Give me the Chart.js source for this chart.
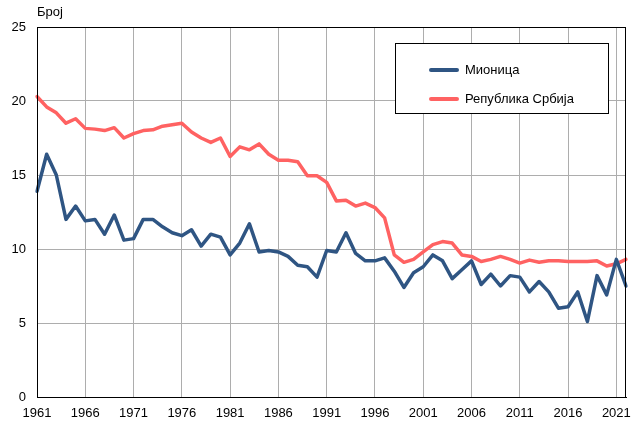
<!DOCTYPE html>
<html>
<head>
<meta charset="utf-8">
<script src="https://cdn.jsdelivr.net/npm/chart.js@4/dist/chart.umd.min.js"></script>
<style>
  html, body { margin: 0; padding: 0; background: #fff; }
  #wrap { width: 635px; height: 421px; position: relative; }
</style>
</head>
<body>
<div id="wrap"><canvas id="c" width="635" height="421"></canvas></div>
<script>
const years = [1961,1962,1963,1964,1965,1966,1967,1968,1969,1970,
  1971,1972,1973,1974,1975,1976,1977,1978,1979,1980,
  1981,1982,1983,1984,1985,1986,1987,1988,1989,1990,
  1991,1992,1993,1994,1995,1996,1997,1998,1999,2000,
  2001,2002,2003,2004,2005,2006,2007,2008,2009,2010,
  2011,2012,2013,2014,2015,2016,2017,2018,2019,2020,
  2021,2022];
const xTickLabels = ['1961','1966','1971','1976','1981','1986','1991','1996','2001','2006','2011','2016','2021'];
const yTicks = [0,5,10,15,20,25];
const seriesNames = ['Мионица','Република Србија'];
const mionica = [13.9,16.4,15.0,12.0,12.9,11.9,12.0,11.0,12.3,10.6,
  10.7,12.0,12.0,11.5,11.1,10.9,11.3,10.2,11.0,10.8,
  9.6,10.4,11.7,9.8,9.9,9.8,9.5,8.9,8.8,8.1,
  9.9,9.8,11.1,9.7,9.2,9.2,9.4,8.5,7.4,8.4,
  8.8,9.6,9.2,8.0,8.6,9.2,7.6,8.3,7.5,8.2,
  8.1,7.1,7.8,7.1,6.0,6.1,7.1,5.1,8.2,6.9,
  9.3,7.5];
const srbija = [20.3,19.6,19.2,18.5,18.8,18.15,18.1,18.0,18.2,17.5,
  17.8,18.0,18.05,18.3,18.4,18.5,17.9,17.5,17.2,17.5,
  16.25,16.9,16.7,17.1,16.4,16.0,16.0,15.9,14.95,14.95,
  14.5,13.25,13.3,12.9,13.1,12.8,12.1,9.6,9.1,9.3,
  9.8,10.3,10.5,10.4,9.6,9.5,9.15,9.3,9.5,9.3,
  9.05,9.25,9.1,9.2,9.2,9.15,9.15,9.15,9.2,8.85,
  9.0,9.3];
const yAxisLabel = 'Број';

const FONT = '"Liberation Sans", Arial, sans-serif';
const BLUE = '#2f5583';
const RED = '#ff6262';
const GRID = '#adadad';

const decorPlugin = {
  id: 'decor',
  afterDraw(chart) {
    const ctx = chart.ctx;
    const a = chart.chartArea;
    ctx.save();
    // frame
    ctx.strokeStyle = '#000';
    ctx.lineWidth = 1;
    ctx.strokeRect(Math.round(a.left) + 0.5, Math.round(a.top) + 0.5,
      Math.round(a.right - a.left) - 1, Math.round(a.bottom - a.top));
    // axis unit label
    ctx.fillStyle = '#000';
    ctx.font = '13px ' + FONT;
    ctx.textAlign = 'left';
    ctx.textBaseline = 'middle';
    ctx.fillText(yAxisLabel, 37, 12);
    // legend box
    const bx = 395.5, by = 43.5, bw = 213, bh = 70;
    ctx.fillStyle = '#fff';
    ctx.fillRect(bx, by, bw, bh);
    ctx.strokeStyle = '#000';
    ctx.strokeRect(bx, by, bw, bh);
    const rows = [70, 99];
    chart.data.datasets.forEach((ds, i) => {
      const y = rows[i];
      ctx.strokeStyle = ds.borderColor;
      ctx.lineWidth = 4;
      ctx.lineCap = 'round';
      ctx.beginPath();
      ctx.moveTo(431, y);
      ctx.lineTo(457, y);
      ctx.stroke();
      ctx.fillStyle = '#000';
      ctx.font = '13px ' + FONT;
      ctx.textBaseline = 'middle';
      ctx.fillText(ds.label, 465, y);
    });
    ctx.restore();
  }
};

new Chart(document.getElementById('c'), {
  type: 'line',
  data: {
    labels: years.map(String),
    datasets: [
      { label: seriesNames[0], data: mionica, borderColor: BLUE, backgroundColor: BLUE,
        borderWidth: 3.5, pointRadius: 0, tension: 0, borderJoinStyle: 'round', borderCapStyle: 'round' },
      { label: seriesNames[1], data: srbija, borderColor: RED, backgroundColor: RED,
        borderWidth: 3.5, pointRadius: 0, tension: 0, borderJoinStyle: 'round', borderCapStyle: 'round' }
    ]
  },
  options: {
    responsive: false,
    animation: false,
    events: [],
    layout: { padding: { left: 0, top: 27, right: 7, bottom: 0 } },
    plugins: { legend: { display: false }, tooltip: { enabled: false }, title: { display: false } },
    scales: {
      x: {
        offset: false,
        afterFit(s) { s.height = 24; },
        grid: {
          drawTicks: false,
          color: (c) => (c.tick && xTickLabels.includes(c.tick.label) ? GRID : 'rgba(0,0,0,0)'),
          lineWidth: 1
        },
        border: { display: true, color: '#000', width: 1 },
        ticks: {
          autoSkip: false,
          maxRotation: 0,
          minRotation: 0,
          padding: 9,
          color: '#000',
          font: { family: FONT, size: 13 },
          callback: function(v, i) {
            const l = this.getLabelForValue(v);
            return xTickLabels.includes(l) ? l : '';
          }
        }
      },
      y: {
        min: yTicks[0],
        max: yTicks[yTicks.length - 1],
        afterFit(s) { s.width = 37; },
        afterBuildTicks(s) { s.ticks = yTicks.map(v => ({ value: v })); },
        grid: { drawTicks: false, color: GRID, lineWidth: 1 },
        border: { display: true, color: '#000', width: 1 },
        ticks: {
          padding: 11,
          color: '#000',
          font: { family: FONT, size: 13 }
        }
      }
    }
  },
  plugins: [decorPlugin]
});
</script>
</body>
</html>
